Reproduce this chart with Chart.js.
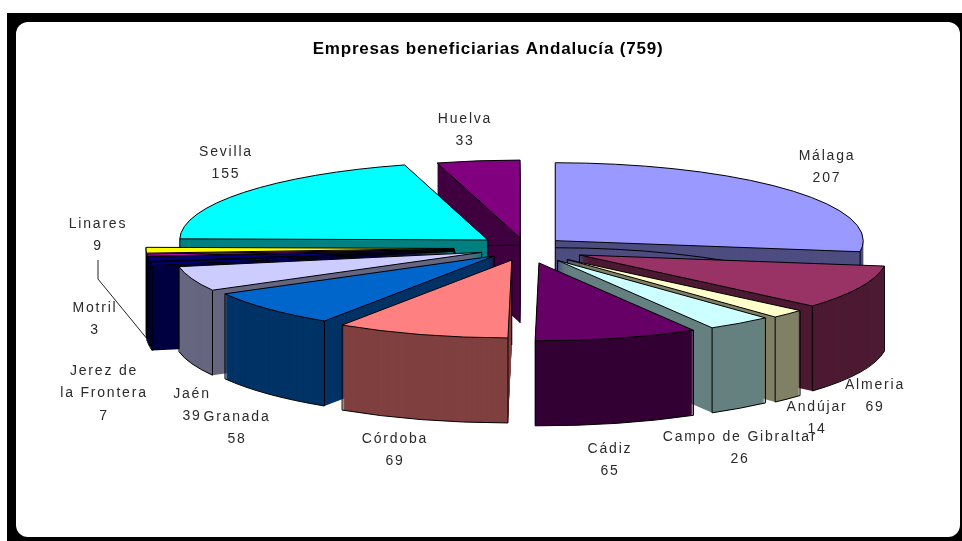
<!DOCTYPE html>
<html><head><meta charset="utf-8">
<style>
html,body{margin:0;padding:0;background:#fff;width:962px;height:541px;overflow:hidden}
#frame{position:absolute;left:7px;top:13px;width:955px;height:528px;background:#000}
#panel{position:absolute;left:9px;top:9px;width:944px;height:515px;background:#fff;border-radius:12px}
#wrap{position:absolute;left:0;top:0;width:962px;height:541px}
</style>
<script src="https://cdn.jsdelivr.net/npm/chart.js@4"></script>
</head><body>
<div id="frame"><div id="panel"></div></div>
<div id="wrap"><canvas id="c" width="962" height="541"></canvas></div>
<script>
// The title gives 759 and the labelled slices add up to 754; the picture's angles
// show an unlabelled 5 sitting in the thin dark band just before Sevilla.
const categories = ["Málaga","Almeria","Andújar","Campo de Gibraltar","Cádiz","Córdoba","Granada","Jaén","","Jerez de la Frontera","Motril","Linares","Sevilla","Huelva"];
const values = [207,69,14,26,65,69,58,39,5,7,3,9,155,33];
const colors = ["#9999FF","#993366","#FFFFCC","#CCFFFF","#660066","#FF8080","#0066CC","#CCCCFF","#000080","#000080","#FF00FF","#FFFF00","#00FFFF","#800080"];
const sideColors = ["#4D4D80","#4D1A33","#808066","#668080","#330033","#804040","#003366","#666680","#000040","#000040","#800080","#808000","#008080","#400040"];
const explode = [40,60,59,55,55,45,42,46,71,71,71,71,47,36];
const titleText = "Empresas beneficiarias Andalucía (759)";
const labelLines = [["Málaga","207"],["Almeria","69"],["Andújar","14"],["Campo de Gibraltar","26"],["Cádiz","65"],["Córdoba","69"],["Granada","58"],["Jaén","39"],[],["Jerez de","la Frontera","7"],["Motril","3"],["Linares","9"],["Sevilla","155"],["Huelva","33"]];

const labelSpots = [[827,156],[875,385],[817,407],[740,437],[610,449],[395,439],[237,417],[192,394],[0,0],[104,371],[95,308],[98,224],[226,152],[465,119]];
const leader = [[98,260],[98,279],[148,340]];
const view = {cx:525, cy:248, squash:0.253, lift:0.28, depth:85};

function shift(a,i){
  const mid=(a.startAngle+a.endAngle)/2;
  return {x:view.cx+Math.cos(mid)*explode[i], y:view.cy+Math.sin(mid)*explode[i]*view.lift};
}
function topPath(ctx,a,i,dy,rimOnly){
  const s=shift(a,i), r=a.outerRadius, y=s.y+dy;
  ctx.beginPath();
  if(rimOnly){
    ctx.ellipse(s.x,y,r,r*view.squash,0,a.startAngle,a.endAngle);
  }else{
    ctx.moveTo(s.x,y);
    ctx.ellipse(s.x,y,r,r*view.squash,0,a.startAngle,a.endAngle);
    ctx.closePath();
  }
  return {x:s.x,y,r};
}
const pie3d = {
  id:'pie3d',
  beforeDatasetsDraw(chart){
    const ctx = chart.ctx;
    const arcs = chart.getDatasetMeta(0).data.map((a,i)=>({a,i}));
    arcs.sort((p,q)=>Math.sin((p.a.startAngle+p.a.endAngle)/2)-Math.sin((q.a.startAngle+q.a.endAngle)/2));
    const paint = (a,i,dy,fill)=>{
      const saved = a.options, s=shift(a,i);
      a.options = Object.assign({},saved,{backgroundColor:fill,borderColor:fill,borderWidth:0});
      ctx.save();
      ctx.translate(s.x,s.y+dy);
      ctx.scale(1,view.squash);
      ctx.translate(-a.x,-a.y);
      a.draw(ctx);
      ctx.restore();
      a.options = saved;
    };
    for(const {a,i} of arcs){
      for(let d=view.depth;d>0;d--) paint(a,i,d,sideColors[i]);
      ctx.strokeStyle='#000'; ctx.lineWidth=1;
      const g = topPath(ctx,a,i,view.depth,true); ctx.stroke();
      ctx.beginPath();
      for(const ang of [a.startAngle,a.endAngle]){
        if(Math.sin(ang)>-0.02){
          const px=g.x+Math.cos(ang)*g.r, py=g.y-view.depth+Math.sin(ang)*g.r*view.squash;
          ctx.moveTo(px,py); ctx.lineTo(px,py+view.depth);
        }
      }
      const down=Math.PI/2;
      const contains=(a.startAngle<=down&&a.endAngle>=down)||(a.startAngle<=down+2*Math.PI&&a.endAngle>=down+2*Math.PI);
      if(!contains){ctx.moveTo(g.x,g.y-view.depth);ctx.lineTo(g.x,g.y);}
      ctx.stroke();
      paint(a,i,0,colors[i]);
      topPath(ctx,a,i,0,false); ctx.stroke();
    }
    return false;
  },
  afterDraw(chart){
    const ctx = chart.ctx;
    ctx.save();
    ctx.strokeStyle='#222'; ctx.lineWidth=1;
    ctx.beginPath();
    leader.forEach((p,i)=> i?ctx.lineTo(p[0],p[1]):ctx.moveTo(p[0],p[1]));
    ctx.stroke();
    ctx.fillStyle='#2a2a2a';
    ctx.font='14px "Liberation Sans"';
    ctx.letterSpacing='1.8px';
    ctx.textAlign='center'; ctx.textBaseline='middle';
    labelLines.forEach((lines,i)=>{
      const [x,y]=labelSpots[i];
      lines.forEach((t,k)=>ctx.fillText(t,x,y+k*22.5));
    });
    ctx.restore();
  }
};
Chart.register(pie3d);
new Chart(document.getElementById('c'),{
  type:'pie',
  data:{labels:categories,datasets:[{data:values,backgroundColor:colors,borderWidth:0}]},
  options:{
    responsive:false,animation:false,radius:308,
    layout:{padding:{left:14}},
    events:[],
    plugins:{
      legend:{display:false},
      tooltip:{enabled:false},
      title:{display:true,text:titleText,color:'#000',font:{family:'"Liberation Sans"',size:17,weight:'bold'},padding:{top:39,bottom:10}}
    }
  },
  plugins:[{id:'ls',beforeDraw(c){c.ctx.letterSpacing='0.8px';},beforeDatasetsDraw(c){c.ctx.letterSpacing='0px';}}]
});
</script>
</body></html>
